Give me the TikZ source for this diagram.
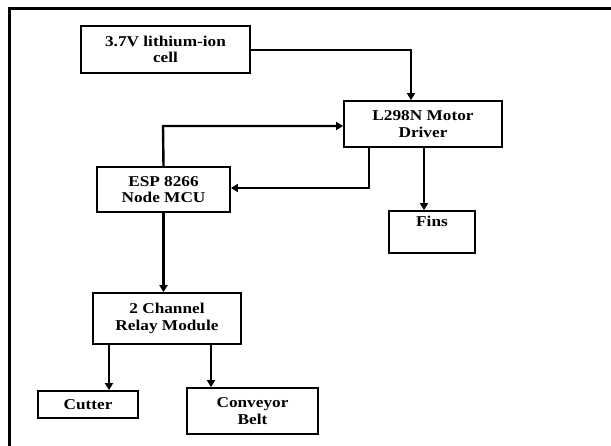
\documentclass[tikz,border=0pt]{standalone}
\usepackage{fontspec}
\setmainfont[FakeStretch=1.15]{Liberation Serif}
\usetikzlibrary{arrows.meta}
\begin{document}
\begin{tikzpicture}[x=1pt,y=-1pt,
  blk/.style={draw, line width=1.8pt, rectangle, align=center, inner sep=0pt,
    font=\fontsize{15}{16.5}\selectfont\bfseries},
  conn/.style={line width=2.4pt, -{Triangle[length=7pt,width=8pt]}}]
\useasboundingbox (0,0) rectangle (611,446);
\draw[line width=3pt] (9,446) -- (9,9) -- (611,9);
\node[blk, minimum width=169pt, minimum height=47pt] (bat) at (165.5,49.5) {3.7V lithium-ion\\cell};
\node[blk, minimum width=158pt, minimum height=46pt] (drv) at (423,124) {L298N Motor\\Driver};
\node[blk, minimum width=133pt, minimum height=45pt] (esp) at (163.5,189.5) {ESP 8266\\Node MCU};
\node[blk, minimum width=86pt, minimum height=42pt] (fins) at (432,232) {Fins\\\strut};
\node[blk, minimum width=148pt, minimum height=51pt] (relay) at (167,318.5) {2 Channel\\Relay Module};
\node[blk, minimum width=100pt, minimum height=27pt] (cut) at (88,404.5) {Cutter};
\node[blk, minimum width=131pt, minimum height=46pt] (conv) at (252.5,411) {Conveyor\\Belt};
\draw[conn] (bat.east |- 0,50) -- (411,50) -- (411,0 |- drv.north);
\draw[conn] (esp.north) -- (163,126) -- (drv.west |- 0,126);
\draw[conn] (369,0 |- drv.south) -- (369,188) -- (esp.east |- 0,188);
\draw[conn] (424,0 |- drv.south) -- (424,0 |- fins.north);
\draw[conn] (esp.south) -- (esp.south |- relay.north);
\draw[conn] (109,0 |- relay.south) -- (109,0 |- cut.north);
\draw[conn] (211,0 |- relay.south) -- (211,0 |- conv.north);
\end{tikzpicture}
\end{document}
